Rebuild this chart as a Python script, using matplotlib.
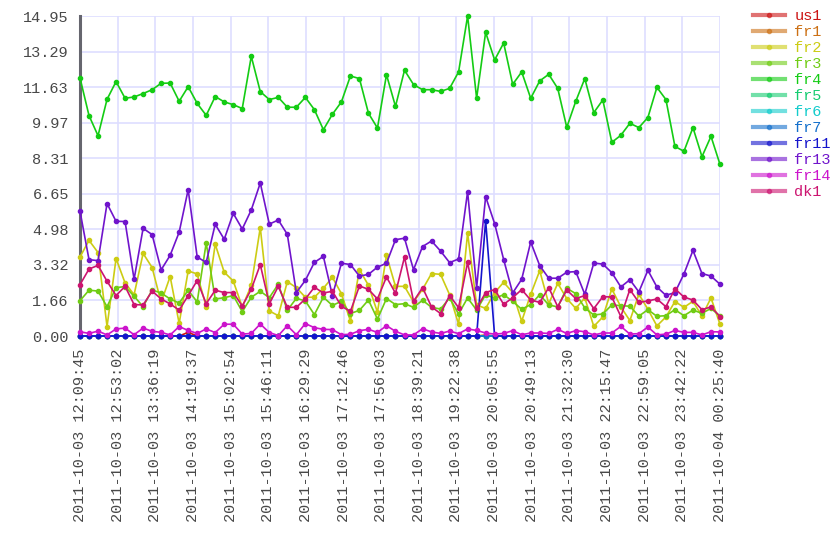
import colorsys
import matplotlib
matplotlib.use("Agg")
import matplotlib.pyplot as plt
import matplotlib.dates as mdates
from matplotlib.lines import Line2D
import numpy as np
import pandas as pd

plt.rcParams["font.family"] = ["Liberation Mono", "DejaVu Sans Mono"]
plt.rcParams["font.size"] = 11

START = "2011-10-03 12:09:45"
END = "2011-10-04 00:25:40"
N_POINTS = 72
Y_MAX = 14.954

names = ["us1", "fr1", "fr2", "fr3", "fr4", "fr5", "fr6", "fr7",
         "fr11", "fr13", "fr14", "dk1"]

us1 = [0.0] * 12 + [0.17] + [0.0] * 59
fr1 = [0.0] * 45 + [0.05] + [0.0] * 26
fr2 = [3.69, 4.47, 3.90, 0.44, 3.62, 2.48, 1.93, 3.86, 3.20, 1.57,
       2.78, 0.59, 3.04, 2.90, 1.36, 4.29, 2.98, 2.57, 1.36, 2.36,
       5.07, 1.17, 0.95, 2.54, 2.26, 1.81, 1.81, 2.23, 2.74, 1.98,
       0.70, 3.10, 2.37, 1.11, 3.77, 2.32, 2.32, 1.59, 2.18, 2.92,
       2.88, 1.93, 0.55, 4.81, 1.45, 1.29, 2.03, 2.51, 2.03, 0.69,
       1.95, 3.05, 1.51, 2.46, 1.75, 1.29, 1.78, 0.45, 0.89, 2.20,
       1.36, 0.72, 1.95, 1.25, 0.47, 0.89, 1.61, 1.34, 1.62, 0.93,
       1.78, 0.55]
fr3 = [1.65, 2.14, 2.10, 1.37, 2.26, 2.31, 1.86, 1.37, 2.15, 2.01,
       1.73, 1.54, 2.14, 1.59, 4.35, 1.73, 1.79, 1.89, 1.14, 1.81,
       2.09, 1.79, 2.42, 1.20, 1.76, 1.64, 1.00, 1.81, 1.43, 1.62,
       1.05, 1.20, 1.68, 0.79, 1.75, 1.47, 1.51, 1.34, 1.67, 1.34,
       1.26, 1.78, 1.03, 1.78, 1.21, 1.93, 1.76, 1.93, 1.62, 1.25,
       1.47, 1.93, 1.45, 1.36, 2.23, 1.98, 1.31, 0.98, 1.03, 1.45,
       1.42, 1.39, 0.93, 1.23, 0.92, 0.95, 1.23, 0.95, 1.21, 1.06,
       1.29, 0.93]
fr4 = [12.06, 10.30, 9.36, 11.06, 11.89, 11.11, 11.17, 11.33, 11.51, 11.81,
       11.82, 10.97, 11.65, 10.87, 10.31, 11.19, 10.94, 10.81, 10.63, 13.07,
       11.42, 11.05, 11.15, 10.69, 10.69, 11.15, 10.58, 9.64, 10.36, 10.94,
       12.15, 12.03, 10.41, 9.72, 12.21, 10.73, 12.42, 11.75, 11.51, 11.51,
       11.43, 11.57, 12.34, 14.954, 11.11, 14.19, 12.90, 13.69, 11.76, 12.34,
       11.11, 11.92, 12.23, 11.57, 9.75, 10.97, 12.03, 10.44, 11.03, 9.05,
       9.38, 9.94, 9.74, 10.21, 11.62, 11.05, 8.86, 8.63, 9.74, 8.38,
       9.33, 8.02]
fr5 = [0.0] * 72
fr6 = [0.0] * 72
fr7 = [0.0] * 72
fr11 = [0.0] * 45 + [5.39] + [0.0] * 26
fr13 = [5.83, 3.57, 3.52, 6.19, 5.36, 5.35, 2.65, 5.03, 4.74, 3.09,
        3.77, 4.85, 6.84, 3.69, 3.44, 5.22, 4.52, 5.73, 5.00, 5.89,
        7.15, 5.23, 5.42, 4.75, 2.03, 2.60, 3.44, 3.72, 1.89, 3.40,
        3.34, 2.80, 2.88, 3.22, 3.40, 4.50, 4.57, 3.10, 4.18, 4.44,
        3.97, 3.43, 3.60, 6.75, 2.26, 6.51, 5.25, 3.57, 2.01, 2.65,
        4.39, 3.29, 2.70, 2.70, 2.98, 3.01, 1.95, 3.41, 3.36, 2.96,
        2.29, 2.63, 2.06, 3.07, 2.29, 1.90, 2.03, 2.90, 4.00, 2.92,
        2.80, 2.42]
fr14 = [0.20, 0.12, 0.23, 0.05, 0.33, 0.37, 0.06, 0.37, 0.22, 0.17,
        0.05, 0.44, 0.26, 0.12, 0.33, 0.16, 0.55, 0.55, 0.09, 0.12,
        0.56, 0.16, 0.02, 0.48, 0.06, 0.58, 0.39, 0.31, 0.30, 0.06,
        0.08, 0.25, 0.31, 0.17, 0.48, 0.22, 0.05, 0.05, 0.34, 0.19,
        0.12, 0.23, 0.11, 0.33, 0.26, 0.14, 0.09, 0.12, 0.25, 0.06,
        0.14, 0.14, 0.12, 0.31, 0.12, 0.25, 0.20, 0.05, 0.14, 0.14,
        0.45, 0.09, 0.11, 0.42, 0.05, 0.09, 0.26, 0.17, 0.17, 0.05,
        0.20, 0.19]
dk1 = [2.40, 3.13, 3.30, 2.56, 1.89, 2.32, 1.47, 1.45, 2.10, 1.73,
       1.50, 1.21, 1.89, 2.59, 1.51, 2.14, 2.03, 2.03, 1.40, 2.18,
       3.34, 1.50, 2.32, 1.34, 1.34, 1.73, 2.28, 2.01, 2.09, 1.39,
       1.15, 2.34, 2.18, 1.73, 2.76, 2.00, 3.69, 1.62, 2.26, 1.36,
       1.05, 1.89, 1.33, 3.44, 1.29, 2.03, 2.17, 1.48, 1.79, 2.17,
       1.68, 1.57, 2.26, 1.37, 2.15, 1.75, 1.89, 1.28, 1.84, 1.82,
       0.91, 2.17, 1.57, 1.64, 1.73, 1.37, 2.21, 1.82, 1.68, 1.23,
       1.36, 0.91]

series = [us1, fr1, fr2, fr3, fr4, fr5, fr6, fr7, fr11, fr13, fr14, dk1]

# one hue per series, evenly around the wheel
colors = [colorsys.hsv_to_rgb(i / len(names), 0.9, 0.8) for i in range(len(names))]

times = pd.date_range(START, END, periods=N_POINTS)

fig = plt.figure(figsize=(8.4, 5.6), dpi=100)
ax = fig.add_axes([80 / 840, 1 - 336 / 560, 640 / 840, 320 / 560])

for vals, col in zip(series, colors):
    ax.plot(times, vals, color=col, lw=1.2, marker="o", ms=3,
            clip_on=False, zorder=3)

t0 = mdates.date2num(pd.Timestamp(START))
t1 = mdates.date2num(pd.Timestamp(END))
ax.set_xlim(t0, t1)
ax.set_ylim(0, Y_MAX)

ax.set_xticks(np.linspace(t0, t1, 18))
ax.xaxis.set_major_formatter(mdates.DateFormatter("%Y-%m-%d %H:%M:%S"))
yt = np.linspace(0, Y_MAX, 10)
ax.set_yticks(yt)
ax.set_yticklabels([f"{v:.2f}" for v in yt])
ax.tick_params(axis="x", rotation=90, length=0, pad=9, colors="#484848")
ax.tick_params(axis="y", length=0, pad=8, colors="#484848")

ax.grid(True, color="#dedeff", lw=1.2)
ax.set_axisbelow(True)
for side in ["top", "right", "bottom"]:
    ax.spines[side].set_visible(False)
ax.spines["left"].set_color("#66666e")
ax.spines["left"].set_linewidth(2.2)

handles = [Line2D([], [], color=c, lw=3, alpha=0.6, marker="o", ms=3,
                  markerfacecolor=c, markeredgecolor=c) for c in colors]
leg = fig.legend(handles, names, loc="upper left",
                 bbox_to_anchor=(753 / 840, 1 - 9 / 560), frameon=False,
                 handlelength=2.1, handletextpad=0.6, labelspacing=0.13,
                 borderpad=0, borderaxespad=0)
for txt, c in zip(leg.get_texts(), colors):
    txt.set_color(c)

fig.savefig("out.png", dpi=100)
